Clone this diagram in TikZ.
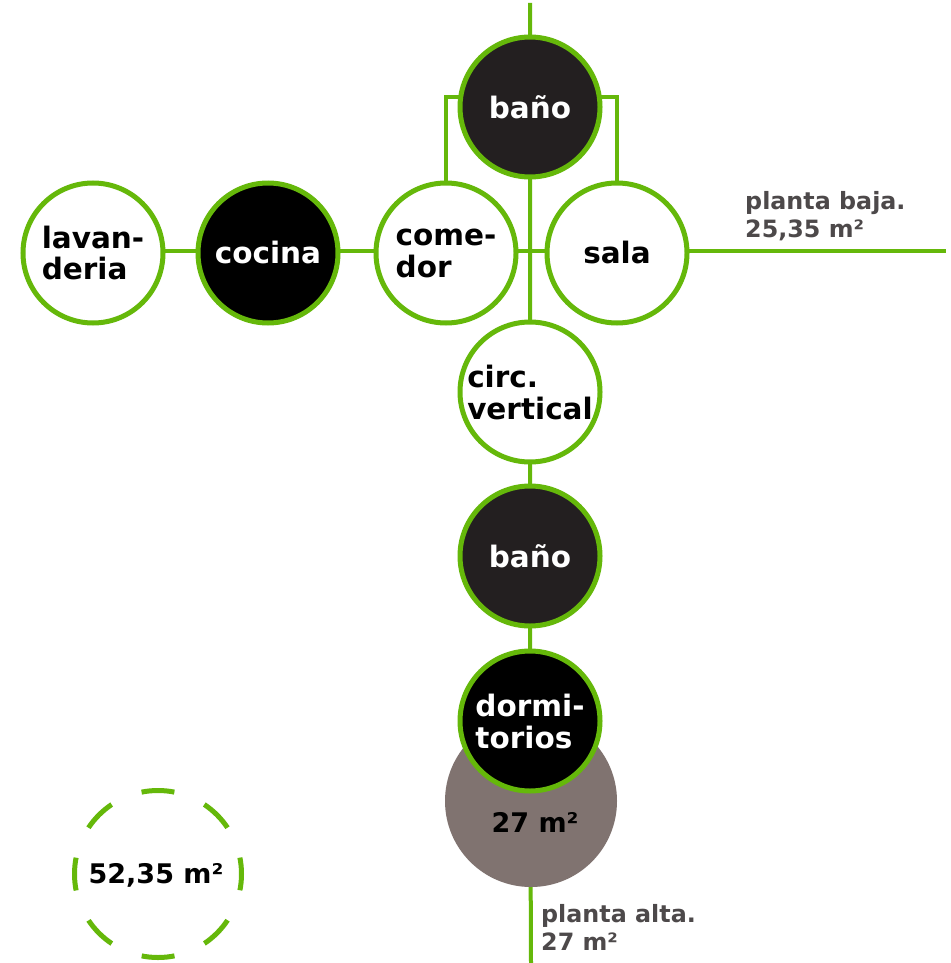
\documentclass[tikz,border=0pt]{standalone}
\usepackage{fontspec}
\setmainfont{DejaVu Sans}
\usetikzlibrary{backgrounds}
\definecolor{lgreen}{RGB}{101,184,10}
\definecolor{darkfill}{RGB}{35,31,32}
\definecolor{grayfill}{RGB}{128,115,112}
\definecolor{labgray}{RGB}{77,73,74}
\tikzset{
  room/.style={circle,draw=lgreen,line width=5pt,minimum size=140pt,inner sep=0pt,
    font=\fontsize{29.5}{32}\selectfont\bfseries,align=left},
  lightroom/.style={room,fill=white,text=black},
  darkroom/.style={room,fill=darkfill,text=white},
  blackroom/.style={room,fill=black,text=white},
  link/.style={draw=lgreen,line width=4pt},
  floorlab/.style={font=\fontsize{23.8}{28}\selectfont\bfseries,text=labgray,align=left,anchor=north west,inner sep=0pt},
  arealab/.style={font=\fontsize{27}{32}\selectfont\bfseries,text=black,inner sep=0pt}
}
\begin{document}
\begin{tikzpicture}[x=1pt,y=-1pt]
\useasboundingbox (0,0) rectangle (950,963);
\node[lightroom] (lav) at (93,253) {lavan-\\deria};
\node[blackroom] (coc) at (268,253) {cocina};
\node[lightroom] (com) at (446,253) {come-\\dor};
\node[lightroom] (sala) at (617,253) {sala};
\node[darkroom] (bano1) at (530,107) {baño};
\node[lightroom] (circ) at (530,392) {circ.\\vertical};
\node[darkroom] (bano2) at (530,556) {baño};
\node[circle,fill=grayfill,minimum size=172pt,inner sep=0pt] (area2) at (531,801) {};
\node[blackroom] (dorm) at (530,721) {dormi-\\torios};
\node[arealab] (a2lab) at (535,822) {27 m²};
\node[circle,draw=lgreen,line width=5pt,dash pattern=on 33pt off 32.6pt,dash phase=16.5pt,minimum size=167pt,inner sep=0pt] (total) at (158,874) {};
\node[arealab] (totlab) at (156,875) {52,35 m²};
\node[floorlab] (pb) at (745,191) {planta baja.\\25,35 m²};
\node[floorlab] (pa) at (541,904) {planta alta.\\27 m²};
\coordinate (topend) at (530,3);
\coordinate (rightend) at (946,251);
\coordinate (botend) at (530,963);
\begin{scope}[on background layer]
\fill[white] (0,0) rectangle (950,963);
\draw[link] (topend) -- (bano1.center) -- (circ.center) -- (bano2.center) -- (dorm.center) -- (area2.center |- botend);
\draw[link] (lav.center |- rightend) -- (rightend);
\draw[link] (com.center) |- ([yshift=10pt]bano1.center) -| (sala.center);
\end{scope}
\end{tikzpicture}
\end{document}
